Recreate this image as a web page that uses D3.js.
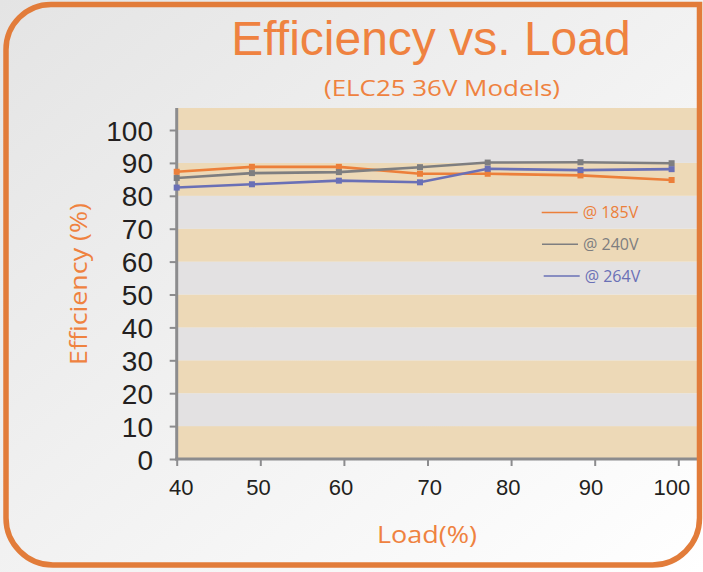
<!DOCTYPE html>
<html><head><meta charset="utf-8">
<script src="https://cdn.jsdelivr.net/npm/d3@7"></script>
<style>html,body{margin:0;padding:0;background:#fff;}svg{display:block;}</style>
</head><body>
<svg id="chart" width="703" height="572"></svg>
<script>
const loads = [40, 49, 59.4, 69.1, 77.2, 88.3, 99.2];
const eff185 = [87.3, 88.8, 88.8, 86.7, 86.7, 86.2, 84.8];
const eff240 = [85.4, 86.9, 87.2, 88.7, 90.1, 90.2, 89.9];
const eff264 = [82.5, 83.5, 84.6, 84.1, 88.2, 87.8, 88.1];
const seriesNames = ["@ 185V", "@ 240V", "@ 264V"];
const xTicks = [40, 50, 60, 70, 80, 90, 100];
const yTicks = [0, 10, 20, 30, 40, 50, 60, 70, 80, 90, 100];
const titleText = "Efficiency vs. Load";
const subtitleText = "(ELC25 36V Models)";
const xLabel = "Load(%)";
const yLabel = "Efficiency (%)";

(function(){
const colors = ["#EC7F3A", "#7E7E80", "#6A70B6"];
const orange = "#EF8240";
const svg = d3.select("#chart");
const W = 703, H = 572;

const defs = svg.append("defs");
const g = defs.append("linearGradient").attr("id","bg").attr("x1","0").attr("y1","0").attr("x2","1").attr("y2","1");
g.append("stop").attr("offset","0").attr("stop-color","#E4E4E4");
g.append("stop").attr("offset","1").attr("stop-color","#FFFFFF");
svg.append("rect").attr("width",W).attr("height",H).attr("fill","url(#bg)");

const pL = 176.7, pR = 697, pT = 108, pB = 459;
const x = d3.scaleLinear().domain([40, 40 + (pR-pL)/8.36]).range([pL, pR]);
const y = d3.scaleLinear().domain([0, (pB-pT)/3.29]).range([pB, pT]);

// bands
const bands = d3.range(0, 110, 10);
svg.append("g").selectAll("rect").data(bands).join("rect")
  .attr("x", pL).attr("width", pR-pL)
  .attr("y", d => Math.max(pT, y(d+10)))
  .attr("height", d => y(d) - Math.max(pT, y(d+10)))
  .attr("fill", d => (d/10)%2===0 ? "#EDD9B7" : "#E3E1E2");

// axes
const yAxis = svg.append("g").attr("transform",`translate(${pL},0)`)
  .call(d3.axisLeft(y).tickValues(yTicks).tickSize(7).tickPadding(16.7));
yAxis.select(".domain").remove();
yAxis.selectAll("line").attr("stroke","#8C8C8E").attr("stroke-width",2);
yAxis.selectAll("text").attr("font-family","'Liberation Sans', Arial").attr("font-size",28).attr("fill","#231F20").attr("dy","0.36em");

const labelShift = [4, -2.3, -3.5, 1.7, -3.3, -4.3, -7];
const xAxis = svg.append("g").attr("transform",`translate(0,${pB})`)
  .call(d3.axisBottom(x).tickValues(xTicks).tickSize(7).tickPadding(13));
xAxis.select(".domain").remove();
xAxis.selectAll("line").attr("stroke","#8C8C8E").attr("stroke-width",2);
xAxis.selectAll("text").attr("font-family","'Liberation Sans', Arial").attr("font-size",22).attr("fill","#231F20")
  .attr("dx",(d,i)=>labelShift[i]);

svg.append("line").attr("x1",pL).attr("x2",pL).attr("y1",pT).attr("y2",pB+1.5)
  .attr("stroke","#8C8C8E").attr("stroke-width",3);
svg.append("line").attr("x1",pL-1.5).attr("x2",pR).attr("y1",pB).attr("y2",pB)
  .attr("stroke","#8C8C8E").attr("stroke-width",3);

// series
const all = [eff185, eff240, eff264];
const line = d3.line().x((d,i)=>x(loads[i])).y(d=>y(d));
all.forEach((s, k) => {
  svg.append("path").datum(s).attr("d", line).attr("fill","none")
    .attr("stroke", colors[k]).attr("stroke-width", 2.6);
  svg.append("g").selectAll("rect").data(s).join("rect")
    .attr("x",(d,i)=>x(loads[i])-3).attr("y",d=>y(d)-3)
    .attr("width",6).attr("height",6).attr("fill",colors[k]);
});

// legend
const legY = [212.5, 244.3, 276];
const legX = [541.7, 542, 543.7];
seriesNames.forEach((n,k)=>{
  svg.append("line").attr("x1",legX[k]).attr("x2",legX[k]+36).attr("y1",legY[k]).attr("y2",legY[k])
    .attr("stroke",colors[k]).attr("stroke-width",1.6);
  svg.append("text").attr("x",legX[k]+41).attr("y",legY[k]+5.5).text(n)
    .attr("font-family","'Open Sans'").attr("font-size",16).attr("fill",colors[k]);
});

// titles
svg.append("text").attr("x",431).attr("y",55).attr("text-anchor","middle").text(titleText)
  .attr("font-family","'Liberation Sans', Arial").attr("font-size",48).attr("fill",orange);
svg.append("text").attr("x",324).attr("y",96).text(subtitleText)
  .attr("font-family","'Open Sans'").attr("font-size",22).attr("fill",orange)
  .attr("textLength",236).attr("lengthAdjust","spacingAndGlyphs");
svg.append("text").attr("x",377).attr("y",543).text(xLabel)
  .attr("font-family","'Open Sans'").attr("font-size",23).attr("fill",orange)
  .attr("textLength",100).attr("lengthAdjust","spacingAndGlyphs");
svg.append("text").attr("transform","translate(87,365) rotate(-90)").text(yLabel)
  .attr("font-family","'Open Sans'").attr("font-size",24).attr("fill",orange)
  .attr("textLength",162).attr("lengthAdjust","spacingAndGlyphs");

// border
const bl = 6, bt = 4.5, br = 699.5, bb = 565, r1 = 45, r2 = 47;
const p = d3.path();
p.moveTo(bl, bt + r1);
p.arcTo(bl, bt, bl + r1, bt, r1);
p.lineTo(br, bt);
p.lineTo(br, bb - r2);
p.arcTo(br, bb, br - r2, bb, r2);
p.lineTo(bl + r2, bb);
p.arcTo(bl, bb, bl, bb - r2, r2);
p.closePath();
svg.append("path").attr("d", p.toString()).attr("fill","none").attr("stroke","#E27C3A").attr("stroke-width",5.5);
})();
</script>
</body></html>
